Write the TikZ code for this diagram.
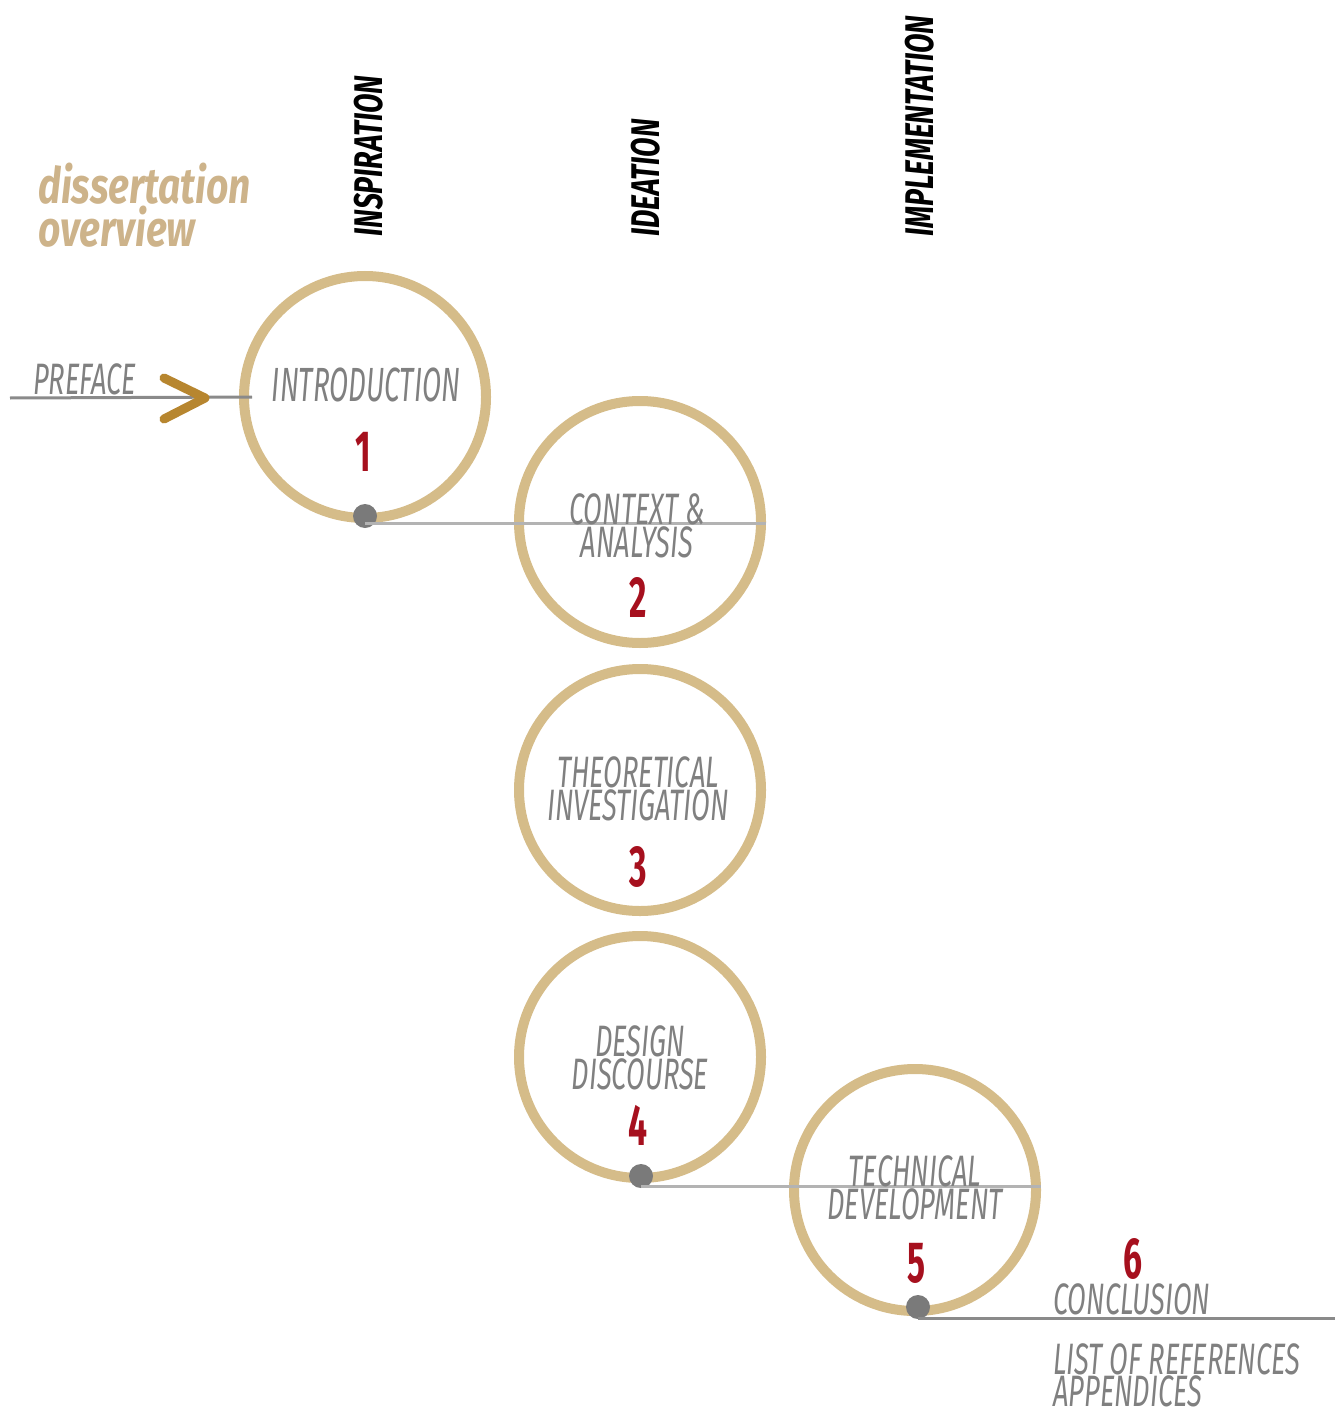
\documentclass[tikz,border=0pt]{standalone}
\usepackage{fontspec}
\newfontfamily\cond[FakeStretch=0.62]{Fira Sans}
\newfontfamily\condi[FakeStretch=0.58]{Fira Sans}
\newfontfamily\condh[FakeStretch=0.71]{Fira Sans}
\newfontfamily\condt[FakeStretch=0.78]{Fira Sans}
\definecolor{ringc}{HTML}{D5BC89}
\definecolor{dotc}{HTML}{7A7A7A}
\definecolor{txtc}{HTML}{808080}
\definecolor{numc}{HTML}{A6101E}
\definecolor{linec}{HTML}{B3B3B3}
\definecolor{darkline}{HTML}{8A8A8A}
\definecolor{chev}{HTML}{B7862F}
\definecolor{titlec}{HTML}{CDB38A}
\begin{document}
\begin{tikzpicture}[x=1pt,y=-1pt,
 ring/.style={circle,draw=ringc,line width=10pt,minimum size=242pt,inner sep=0pt,outer sep=0pt},
 dot/.style={circle,fill=dotc,minimum size=24pt,inner sep=0pt},
 lbl/.style={font=\cond\itshape\fontsize{44}{30}\selectfont,text=txtc,align=center,inner sep=0pt},
 num/.style={font=\condi\bfseries\fontsize{58}{58}\selectfont,text=numc,inner sep=0pt,anchor=base},
 head/.style={font=\condh\bfseries\itshape\fontsize{40}{40}\selectfont,rotate=90,anchor=base west,inner sep=0pt},
 conn/.style={draw=linec,line width=3pt},
 darkconn/.style={draw=darkline,line width=3pt}]
\useasboundingbox (0,0) rectangle (1335,1412);
% title
\node[font=\condt\bfseries\itshape\fontsize{50}{37}\selectfont,text=titlec,align=left,anchor=north west,inner sep=0pt] (title) at (38,163) {dissertation\\overview};
% headers
\node[head] (h1) at (382,237) {INSPIRATION};
\node[head] (h2) at (659,237) {IDEATION};
\node[head] (h3) at (933,237) {IMPLEMENTATION};
% preface
\coordinate (pstart) at (10,398);
\node[lbl,anchor=base west] (pref) at (33,394) {PREFACE};
% rings
\node[ring] (c1) at (365,397) {};
\node[ring] (c2) at (640,522) {};
\node[ring] (c3) at (640,790) {};
\node[ring] (c4) at (640,1057) {};
\node[ring] (c5) at (915,1190) {};
% preface line and chevron
\draw[darkconn] (pstart) -- ([xshift=8pt]c1.west);
\draw[chev,line width=9pt,line cap=round,line join=round] (164,378) -- (205,398) -- (164,419);
% connectors
\node[dot] (d1) at (365,516) {};
\draw[conn] ([yshift=-7pt]d1.center) -- ([yshift=-7pt,xshift=5pt]d1.center -| c2.east);
\node[dot] (d4) at (641,1176) {};
\draw[conn] ([yshift=-10pt]d4.center) -- ([yshift=-10pt,xshift=5pt]d4.center -| c5.east);
\node[dot] (d5) at (918,1307) {};
\coordinate (rend) at (1335,1318);
\draw[darkconn] (d5.center |- rend) -- (rend);
% labels
\node[lbl,font=\condi\itshape\fontsize{48}{31}\selectfont,anchor=base] (t1) at (366,401) {INTRODUCTION};
\node[lbl] (t2) at (637,526) {CONTEXT \&\\ANALYSIS};
\node[lbl] (t3) at (638,789) {THEORETICAL\\INVESTIGATION};
\node[lbl] (t4) at (640,1058) {DESIGN\\DISCOURSE};
\node[lbl] (t5) at (915,1188) {TECHNICAL\\DEVELOPMENT};
\node[lbl,anchor=base west] (t6) at (1053,1314) {CONCLUSION};
\node[lbl,align=left,anchor=north west] (t7) at (1053,1343) {LIST OF REFERENCES\\APPENDICES};
% numbers
\node[num] (n1) at (363,471) {1};
\node[num] (n2) at (638,617) {2};
\node[num] (n3) at (638,886) {3};
\node[num] (n4) at (638,1145) {4};
\node[num] (n5) at (917,1282) {5};
\node[num] (n6) at (1133,1278) {6};
\end{tikzpicture}
\end{document}
